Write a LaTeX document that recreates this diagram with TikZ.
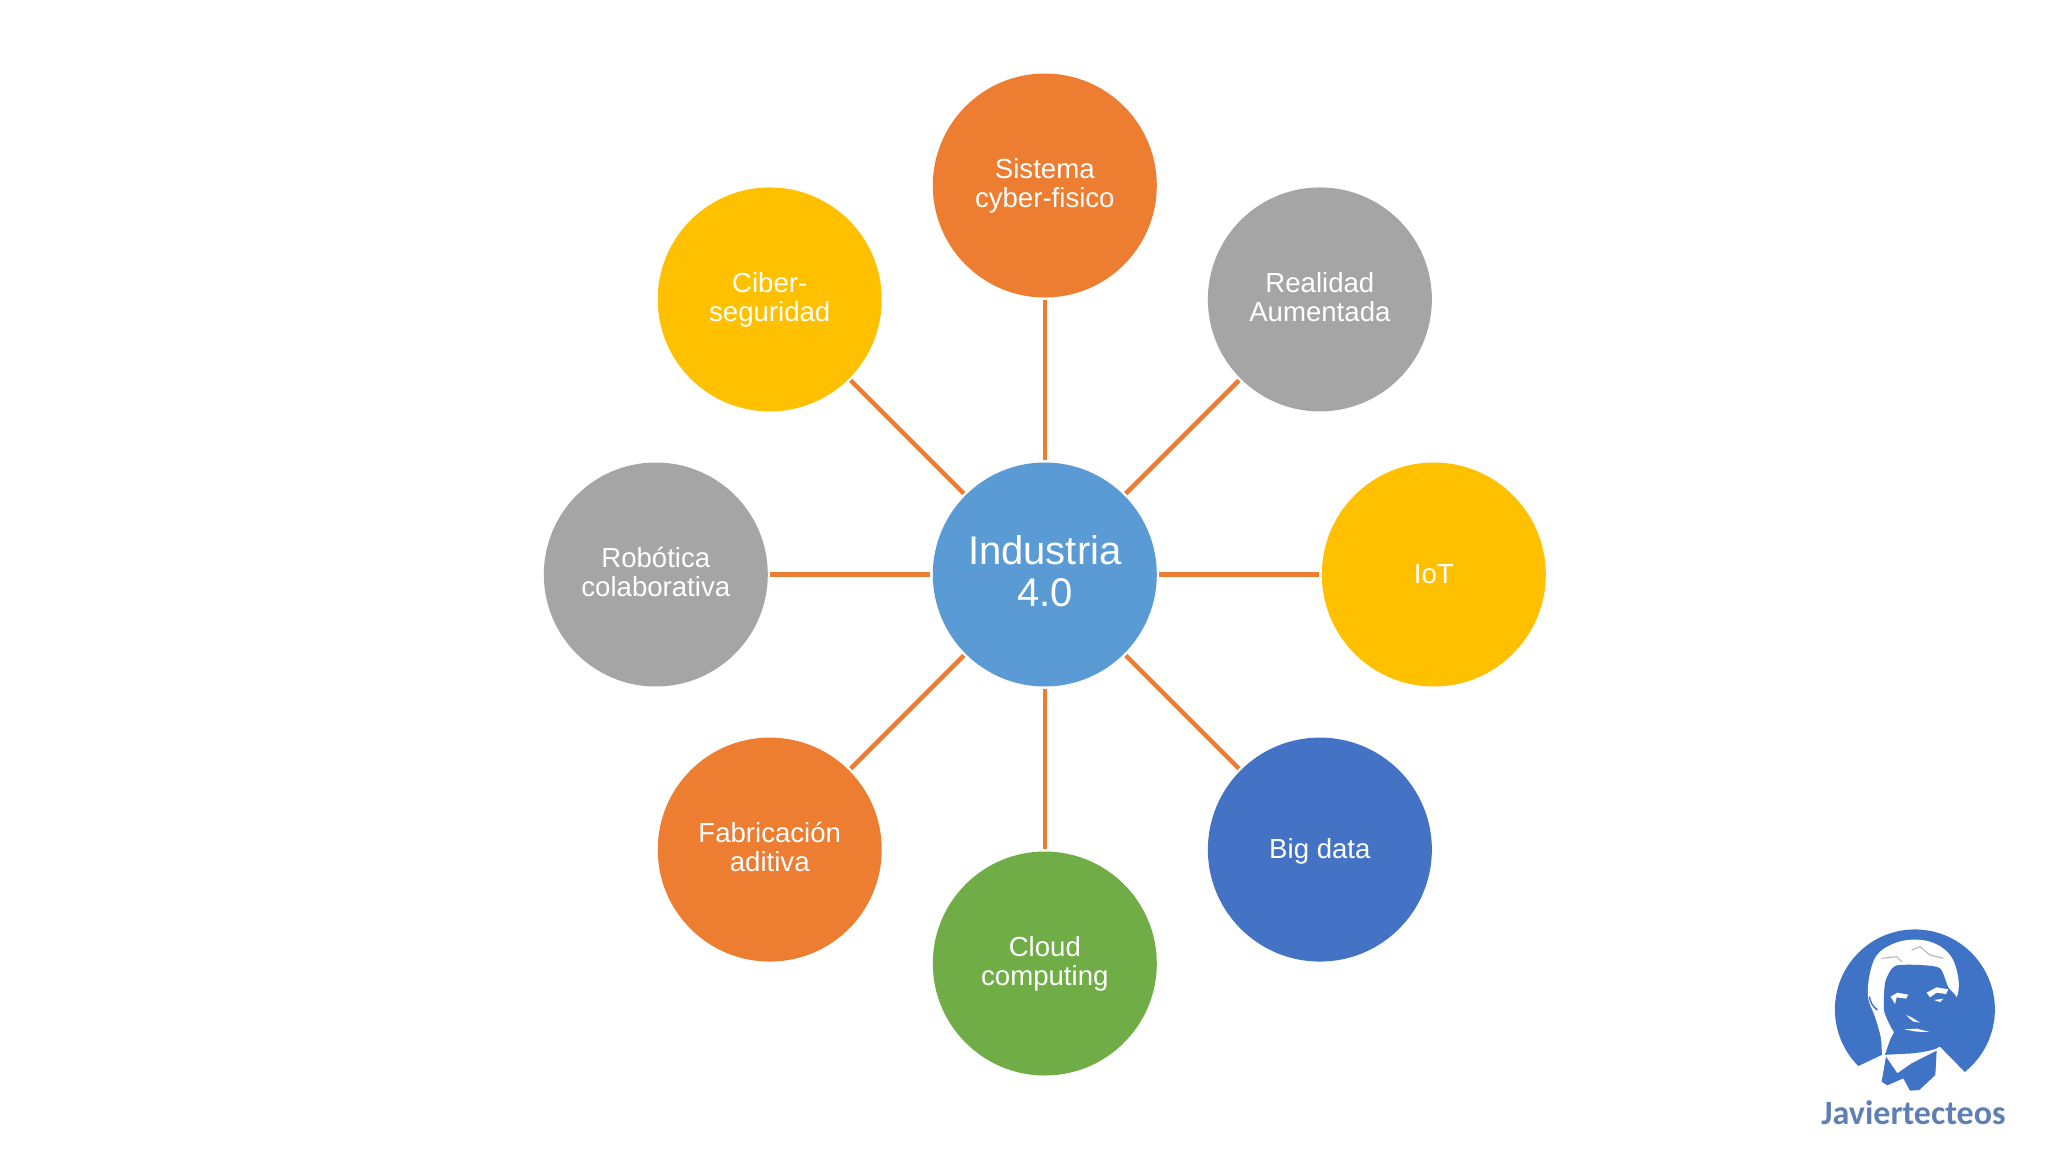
\documentclass[tikz,border=0pt]{standalone}
\usepackage{fontspec}
\setmainfont{Liberation Sans}
\newfontfamily\logofont{Carlito}[Scale=1]
\usetikzlibrary{positioning}
\definecolor{corange}{HTML}{ED7D31}
\definecolor{cyellow}{HTML}{FFC000}
\definecolor{cgray}{HTML}{A5A5A5}
\definecolor{csky}{HTML}{5B9BD5}
\definecolor{cblue}{HTML}{4472C4}
\definecolor{cgreen}{HTML}{70AD47}
\definecolor{clogo}{HTML}{3F73C6}
\definecolor{clogotext}{HTML}{5F7FB4}
\newcommand{\tstrut}{\rule[-.17em]{0pt}{1em}}
\tikzset{hub/.style={circle,fill=csky,text=white,inner sep=0pt,outer sep=2.5pt,minimum size=224pt,align=center,font=\fontsize{40}{42}\selectfont,execute at begin node=\tstrut,execute at end node=\tstrut},
	 tech/.style={circle,text=white,inner sep=0pt,outer sep=2.5pt,minimum size=224pt,align=center,font=\fontsize{27.6}{29}\selectfont,execute at begin node=\tstrut,execute at end node=\tstrut},
	 spoke/.style={corange,line width=4.5pt},
	 node distance = 389pt,
	 on grid
	 }

\begin{document}
\begin{tikzpicture}[x=1pt,y=-1pt] % Industria 4.0 star
        \useasboundingbox (0,0) rectangle (2048,1152);
        \fill[white] (0,0) rectangle (2048,1152);
        \node[hub] (ind) at (1044.8,574.5) {Industria\\4.0};
        \node[tech,fill=corange] (sis) [above=of ind] {Sistema\\cyber-fisico};
        \node[tech,fill=cgray] (rea) [above right=of ind] {Realidad\\Aumentada};
        \node[tech,fill=cyellow] (iot) [right=of ind] {IoT};
        \node[tech,fill=cblue] (big) [below right=of ind] {Big data};
        \node[tech,fill=cgreen] (clo) [below=of ind] {Cloud\\computing};
        \node[tech,fill=corange] (fab) [below left=of ind] {Fabricación\\aditiva};
        \node[tech,fill=cgray] (rob) [left=of ind] {Robótica\\colaborativa};
        \node[tech,fill=cyellow] (cib) [above left=of ind] {Ciber-\\seguridad};
        \draw[spoke] (ind) to (sis);
        \draw[spoke] (ind) to (rea);
        \draw[spoke] (ind) to (iot);
        \draw[spoke] (ind) to (big);
        \draw[spoke] (ind) to (clo);
        \draw[spoke] (ind) to (fab);
        \draw[spoke] (ind) to (rob);
        \draw[spoke] (ind) to (cib);
        % logo
        \begin{scope}[xshift=1780pt,yshift=-900pt,x=0.3333pt,y=-0.3333pt]
          \fill[clogo] (235,498) arc[start angle=135,end angle=411.4,radius=240] -- (480,440) -- (400,460) -- (305,465) -- cycle;
          \fill[white] plot[smooth cycle,tension=0.6] coordinates {(310,470) (302,410) (285,350) (264,290) (272,210) (300,155) (370,122) (450,125) (510,165) (535,235) (528,295) (480,320) (400,330) (340,400)};
          \fill[clogo] plot[smooth cycle,tension=0.4] coordinates {(316,245) (345,198) (420,195) (480,205) (505,262) (532,300) (510,400) (470,445) (400,458) (365,425) (335,385) (312,330)};
          \fill[white] (332,290) -- (352,278) -- (385,284) -- (378,296) -- (350,292) -- (345,312) -- cycle;
          \fill[white] (440,278) -- (470,262) -- (505,268) -- (498,282) -- (470,278) -- (450,292) -- cycle;
          \fill[white] (462,300) -- (490,296) -- (480,306) -- cycle;
          \fill[white] (378,345) -- (395,352) -- (420,368) -- (398,364) -- cycle;
          \fill[white] (372,388) -- (410,386) -- (450,396) -- (410,395) -- cycle;
          \draw[clogo,line width=1.5pt] (268,290) to[bend right=20] (292,330);
          \draw[gray!60,line width=1pt] (305,175) -- (350,170) -- (365,185);
          \draw[gray!60,line width=1pt] (395,150) -- (420,140) -- (450,165) -- (490,175);
          \fill[clogo] (318,470) -- (352,520) -- (395,490) -- (470,452) -- (466,525) -- (418,570) -- (390,572) -- (370,535) -- (322,556) -- (305,545) -- cycle;
        \end{scope}
        \node[text=clogotext,inner sep=0pt,font=\logofont\bfseries\fontsize{34}{34}\selectfont] (logotext) at (1913.5,1113) {Javiertecteos};
     \end{tikzpicture}
\end{document}
